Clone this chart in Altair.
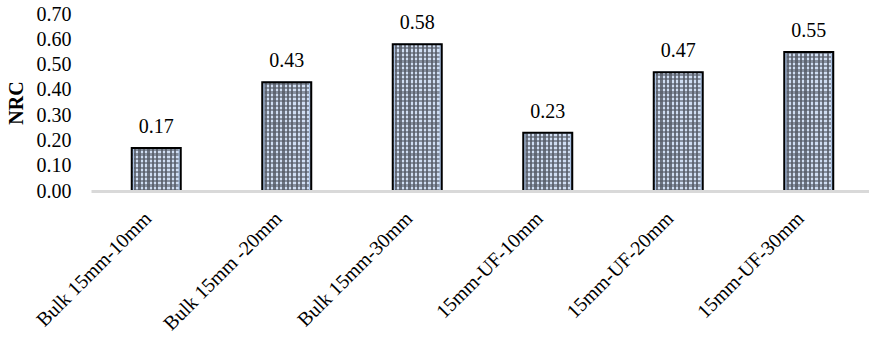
import altair as alt
import pandas as pd

# Noise reduction coefficient per sample
samples = [
    "Bulk 15mm-10mm",
    "Bulk 15mm -20mm",
    "Bulk 15mm-30mm",
    "15mm-UF-10mm",
    "15mm-UF-20mm",
    "15mm-UF-30mm",
]
nrc = [0.17, 0.43, 0.58, 0.23, 0.47, 0.55]
y_ticks = [0.0, 0.1, 0.2, 0.3, 0.4, 0.5, 0.6, 0.7]
Y_MAX = 0.70

FONT = "Liberation Serif"
W, H = 778, 177

df = pd.DataFrame({"sample": samples, "nrc": nrc})


def stripes(periods, light, dark, horizontal):
    """Hard-edged linear gradient that alternates two colours."""
    stops = []
    n = 2 * periods
    for i in range(n):
        c = light if i % 2 == 0 else dark
        stops.append({"offset": round(i / n, 5), "color": c})
        stops.append({"offset": round(min((i + 1) / n, 1.0), 5), "color": c})
    g = {"gradient": "linear", "stops": stops, "x1": 0, "y1": 0}
    if horizontal:
        g.update(x2=0, y2=1)
    else:
        g.update(x2=1, y2=0)
    return g


x_scale = alt.Scale(range=[0, 783], paddingInner=0, paddingOuter=0)
x_axis = alt.Axis(
    title=None,
    labelAngle=-45,
    labelAlign="right",
    labelBaseline="top",
    labelPadding=17,
    labelOffset=-15,
    ticks=False,
    domainColor="#d9d9d9",
    domainWidth=3,
    grid=False,
    zindex=1,
)
y_scale = alt.Scale(domain=[0, Y_MAX], zero=True)
y_axis = alt.Axis(
    title="NRC",
    values=y_ticks,
    format=".2f",
    labelPadding=20,
    labelOverlap=False,
    ticks=False,
    domain=False,
    grid=False,
    titleFontWeight="bold",
    titlePadding=10,
)

X = alt.X("sample:N", sort=samples, scale=x_scale, axis=x_axis)


def Y(field):
    return alt.Y(field, scale=y_scale, axis=y_axis)


base = alt.Chart(df).transform_calculate(top=str(Y_MAX))

BAR = 49

# light/dark columns inside each bar
fill_cols = base.mark_bar(
    size=BAR, fill=stripes(11, "#d0def3", "#6c7380", horizontal=False)
).encode(x=X, y=Y("nrc:Q"))

# light/dark rows laid over the columns, giving the lattice texture
fill_rows = base.mark_bar(
    size=BAR,
    fill=stripes(40, "rgba(255,255,255,0)", "rgba(84,90,102,0.6)", horizontal=True),
).encode(x=X, y=Y("top:Q"))

# blank out the rows above each bar
mask = base.mark_bar(size=BAR + 2, fill="white").encode(
    x=X, y=Y("nrc:Q"), y2="top:Q"
)

# pale blue rim just inside the black outline
rim = base.mark_bar(
    size=BAR - 3, fillOpacity=0, stroke="#a8c0e2", strokeWidth=1.5
).encode(x=X, y=Y("nrc:Q"))

outline = base.mark_bar(
    size=BAR, fillOpacity=0, stroke="black", strokeWidth=2
).encode(x=X, y=Y("nrc:Q"))

labels = base.mark_text(
    font=FONT, fontSize=20, color="black", baseline="alphabetic", dy=-15
).encode(x=X, y=Y("nrc:Q"), text=alt.Text("nrc:Q", format=".2f"))

chart = (
    alt.layer(fill_cols, fill_rows, mask, rim, outline, labels)
    .properties(
        width=W,
        height=H,
        padding={"left": 91, "top": 14, "right": 0, "bottom": 146},
        autosize=alt.AutoSizeParams(type="none"),
        background="white",
    )
    .configure_view(strokeWidth=0, strokeOpacity=0)
    .configure_axis(
        grid=False,
        labelFont=FONT,
        labelFontSize=20,
        labelColor="black",
        titleFont=FONT,
        titleFontSize=20,
        titleColor="black",
    )
)

chart.save("out.html", embed_options={"renderer": "svg", "actions": False})
